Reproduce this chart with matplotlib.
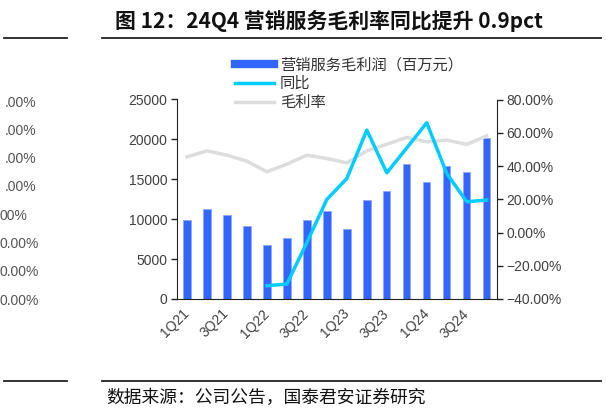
import matplotlib
matplotlib.use("Agg")
import matplotlib.pyplot as plt
from matplotlib.lines import Line2D
import numpy as np

plt.rcParams['font.family'] = ['Noto Sans CJK SC', 'DejaVu Sans']

quarters = ['1Q21', '2Q21', '3Q21', '4Q21', '1Q22', '2Q22', '3Q22', '4Q22',
            '1Q23', '2Q23', '3Q23', '4Q23', '1Q24', '2Q24', '3Q24', '4Q24']
gross_profit = [9900, 11240, 10490, 9150, 6730, 7640, 9900, 11030,
                8770, 12370, 13530, 16880, 14620, 16670, 15910, 20210]
yoy = [None, None, None, None, -32.0, -31.0, -6.0, 19.9,
       32.5, 61.6, 35.9, 50.9, 66.0, 35.5, 18.5, 19.5]
margin = [45.5, 49.1, 46.5, 42.9, 36.5, 41.1, 46.5, 44.5,
          41.9, 49.1, 53.1, 57.2, 54.5, 55.6, 53.0, 58.1]
left_ticks = [0, 5000, 10000, 15000, 20000, 25000]
right_ticks = [-40, -20, 0, 20, 40, 60, 80]
remnant_labels = ['.00%', '.00%', '.00%', '.00%', '00%', '0.00%', '0.00%', '0.00%']

title = '图 12：24Q4 营销服务毛利率同比提升 0.9pct'
source = '数据来源：公司公告，国泰君安证券研究'
legend_labels = ['营销服务毛利润（百万元）', '同比', '毛利率']

bar_color = '#3366FF'
yoy_color = '#00CCFF'
margin_color = '#DDDDDD'
tick_color = '#404040'

W, H = 606, 412
fig = plt.figure(figsize=(W / 100, H / 100), dpi=100)

def fx(px):
    return px / W

def fy(py):
    return 1 - py / H

ax_l, ax_r, ax_t, ax_b = 177, 496.7, 99.5, 299
ax = fig.add_axes([fx(ax_l), fy(ax_b), fx(ax_r - ax_l), (ax_b - ax_t) / H])
x = np.arange(len(quarters))
ax.bar(x, gross_profit, width=0.37, color=bar_color, edgecolor='#8FA8FF', linewidth=0.6, zorder=2)
ax.set_xlim(-0.5, len(quarters) - 0.5)
ax.set_ylim(0, 25000)
ax.set_yticks(left_ticks)
ax.set_yticklabels([str(v) for v in left_ticks], family='Liberation Sans', fontsize=10, color=tick_color)
ax.set_xticks(x[::2])
ax.set_xticklabels(quarters[::2], rotation=45, ha='right', va='center', rotation_mode='anchor',
                   family='Liberation Sans', fontsize=10, color=tick_color)
ax.tick_params(axis='x', length=0, pad=9)
ax.tick_params(axis='y', length=4, width=1, color='#222222', pad=3)
for s in ['top', 'right']:
    ax.spines[s].set_visible(False)
ax.spines['left'].set_color('#222222')
ax.spines['bottom'].set_color('#222222')
ax.patch.set_visible(False)

ax2 = ax.twinx()
ax2.set_ylim(-40, 80)
yoy_x = [i for i, v in enumerate(yoy) if v is not None]
yoy_y = [v for v in yoy if v is not None]
ax2.plot(x, margin, color=margin_color, linewidth=2.5, zorder=3)
ax2.plot(yoy_x, yoy_y, color=yoy_color, linewidth=2.5, zorder=4)
ax2.set_yticks(right_ticks)
ax2.set_yticklabels([f'{v:.2f}%'.replace('-', '−') for v in right_ticks], family='Liberation Sans',
                    fontsize=10, color=tick_color)
ax2.tick_params(axis='y', length=4, width=1, color='#222222', pad=3)
for s in ['top', 'left', 'bottom']:
    ax2.spines[s].set_visible(False)
ax2.spines['right'].set_color('#222222')
ax.set_zorder(1)
ax2.set_zorder(2)
ax2.patch.set_visible(False)

handles = [Line2D([0], [0], color=bar_color, linewidth=6),
           Line2D([0], [0], color=yoy_color, linewidth=2.5),
           Line2D([0], [0], color=margin_color, linewidth=2.5)]
fig.legend(handles, legend_labels, loc='upper left', bbox_to_anchor=(fx(224), fy(45.5)),
           frameon=False, fontsize=11, handlelength=2.6, handletextpad=0.35,
           labelspacing=0.12, borderpad=0.2, labelcolor='#333333')

# title and decorations
fig.text(fx(115), fy(21), title, fontsize=15, fontweight='bold', ha='left', va='center', color='#111111')
for yy in (37.5, 381):
    fig.add_artist(Line2D([fx(4), fx(67)], [fy(yy), fy(yy)], color='#222222', linewidth=1.3))
    fig.add_artist(Line2D([fx(102), fx(601)], [fy(yy), fy(yy)], color='#222222', linewidth=1.3))
fig.text(fx(106), fy(398), source, fontsize=12.8, ha='left', va='center', color='#111111')

# cropped remnant of neighbouring chart's axis
remnant_x = [5, 5, 5, 5, 0, 0, 0, 0]
remnant_y = [103, 131, 159, 187, 216, 244, 272, 301]
for lab, px, py in zip(remnant_labels, remnant_x, remnant_y):
    fig.text(fx(px), fy(py), lab, fontsize=10, family='Liberation Sans', ha='left', va='center', color='#555555')

fig.savefig('out.png', dpi=100)
